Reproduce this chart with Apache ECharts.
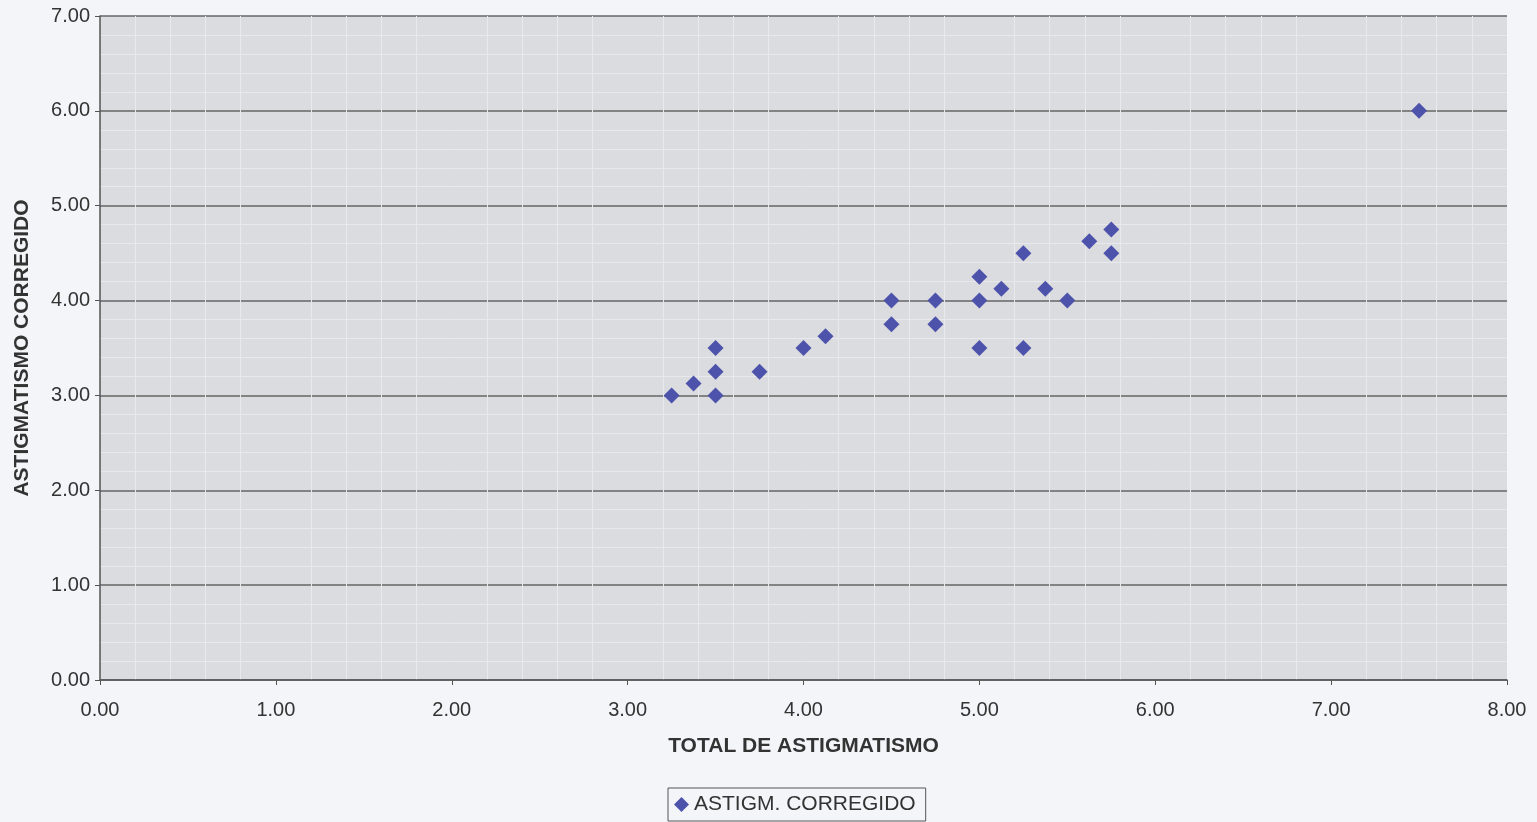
<!DOCTYPE html>
<html>
<head>
<meta charset="utf-8">
<script src="https://cdn.jsdelivr.net/npm/echarts@6/dist/echarts.min.js"></script>
<style>
  html, body { margin: 0; padding: 0; background: #f4f5f8; }
  #chart { width: 1537px; height: 822px; }
</style>
</head>
<body>
<div id="chart"></div>
<script>
const totalAstig = [3.25, 3.375, 3.5, 3.5, 3.5, 3.75, 4.0, 4.125, 4.5, 4.5, 4.75, 4.75, 5.0, 5.0, 5.0, 5.125, 5.25, 5.25, 5.375, 5.5, 5.625, 5.75, 5.75, 7.5];
const corrected = [3.0, 3.125, 3.5, 3.25, 3.0, 3.25, 3.5, 3.625, 4.0, 3.75, 4.0, 3.75, 4.25, 4.0, 3.5, 4.125, 4.5, 3.5, 4.125, 4.0, 4.625, 4.75, 4.5, 6.0];
const seriesName = 'ASTIGM. CORREGIDO';

const chartDom = document.getElementById('chart');
const myChart = echarts.init(chartDom);

const labelStyle = {
  fontFamily: 'Liberation Sans, Arial',
  fontSize: 20,
  color: '#333',
  formatter: (v) => v.toFixed(2)
};
const nameStyle = {
  fontFamily: 'Liberation Sans, Arial',
  fontSize: 21,
  fontWeight: 'bold',
  color: '#333'
};

const option = {
  backgroundColor: '#f4f5f8',
  animation: false,
  grid: {
    left: 100,
    right: 30,
    top: 16,
    bottom: 142,
    outerBoundsMode: 'none',
    containLabel: false,
    show: true,
    backgroundColor: '#dbdcdf',
    borderWidth: 0
  },
  legend: {
    data: [{ name: seriesName, icon: 'diamond' }],
    bottom: 1,
    left: 668,
    itemWidth: 15,
    itemHeight: 15,
    itemGap: 4,
    padding: [6, 10, 6, 6],
    borderColor: '#555',
    borderWidth: 1,
    borderRadius: 0,
    textStyle: { fontFamily: 'Liberation Sans, Arial', fontSize: 21, color: '#333' }
  },
  xAxis: {
    type: 'value',
    min: 0,
    max: 8,
    interval: 1,
    name: 'TOTAL DE ASTIGMATISMO',
    nameLocation: 'middle',
    nameGap: 56,
    nameTextStyle: nameStyle,
    axisLine: { show: true, lineStyle: { color: '#555', width: 1.5 } },
    axisTick: { show: true, length: 5, lineStyle: { color: '#555' } },
    axisLabel: Object.assign({ margin: 20 }, labelStyle),
    splitLine: { show: false },
    minorTick: { show: false },
    minorSplitLine: { show: true, lineStyle: { color: '#e8e9ec', width: 1 } }
  },
  yAxis: {
    type: 'value',
    min: 0,
    max: 7,
    interval: 1,
    name: 'ASTIGMATISMO CORREGIDO',
    nameLocation: 'middle',
    nameGap: 67,
    nameTextStyle: nameStyle,
    axisLine: { show: true, lineStyle: { color: '#555', width: 1.5 } },
    axisTick: { show: true, length: 5, lineStyle: { color: '#555' } },
    axisLabel: Object.assign({ margin: 10 }, labelStyle),
    splitLine: { show: true, lineStyle: { color: '#666', width: 1.5 } },
    minorTick: { show: false },
    minorSplitLine: { show: true, lineStyle: { color: '#e8e9ec', width: 1 } }
  },
  series: [
    {
      name: seriesName,
      type: 'scatter',
      symbol: 'diamond',
      symbolSize: 16,
      itemStyle: { color: '#4d52ab', opacity: 1 },
      data: totalAstig.map((x, i) => [x, corrected[i]])
    }
  ]
};

myChart.setOption(option);
</script>
</body>
</html>
